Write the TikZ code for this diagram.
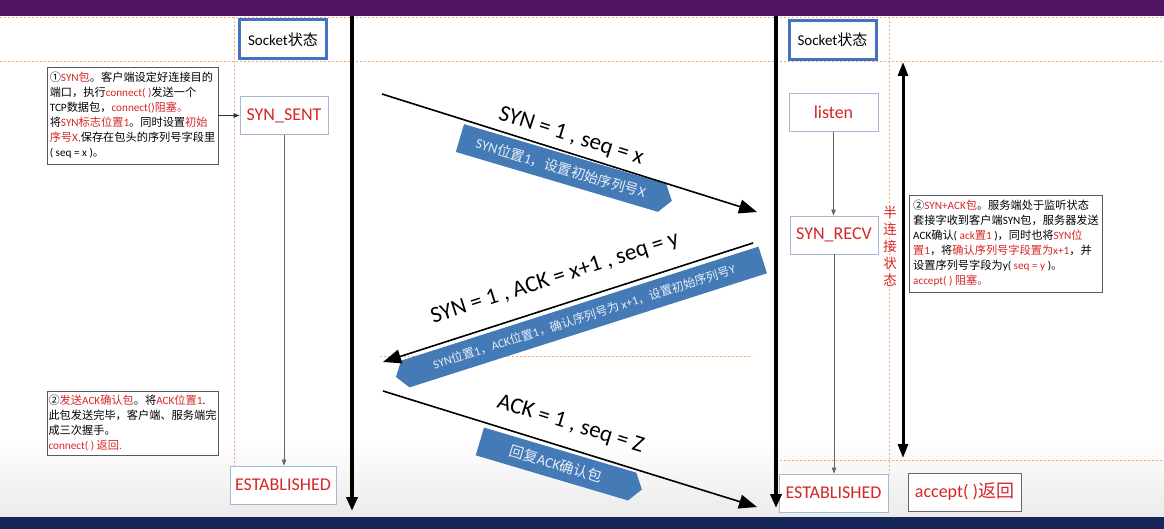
\documentclass[tikz,border=0pt]{standalone}
\usepackage{fontspec}
\setmainfont{Carlito}
\newfontfamily\cjk{Noto Sans CJK SC}
\usetikzlibrary{arrows.meta,shapes.symbols}
\newcommand\zh[1]{{\cjk #1}}
\definecolor{txtred}{RGB}{214,38,38}
\definecolor{sockblue}{RGB}{68,114,196}
\definecolor{stateedge}{RGB}{165,185,215}
\definecolor{dashor}{RGB}{240,170,120}
\definecolor{bannerblue}{RGB}{68,122,182}
\definecolor{bannertext}{RGB}{232,238,248}
\definecolor{topband}{RGB}{80,22,100}
\definecolor{botband}{RGB}{22,38,88}
\newcommand\rd[1]{\textcolor{txtred}{#1}}
\begin{document}
\begin{tikzpicture}[x=1pt,y=-1pt,
  dashln/.style={draw=dashor, line width=0.9pt, dash pattern=on 2pt off 2pt},
  sockbox/.style={draw=sockblue, line width=3pt, fill=white, minimum width=87pt, minimum height=39pt, font=\fontsize{15}{18}\selectfont, inner sep=0pt},
  statebox/.style={draw=stateedge, line width=0.9pt, fill=white, text=txtred, font=\fontsize{18}{21}\selectfont, inner sep=0pt, minimum height=38pt},
  notebox/.style={draw=black!65, line width=0.9pt, fill=white, align=left, font=\fontsize{11.2}{15}\selectfont, inner sep=0pt},
  thinarr/.style={draw=black!60, line width=0.7pt, -{Triangle[length=6pt,width=4.5pt]}},
  msgarr/.style={draw=black, line width=1.6pt, -{Triangle[length=18pt,width=14pt]}},
  timeline/.style={draw=black, line width=4pt, -{Triangle[length=14pt,width=11pt]}},
  banner/.style={shape=signal, fill=bannerblue, text=bannertext, inner sep=0pt, signal pointer angle=110, font=\fontsize{14}{16}\selectfont},
  msglab/.style={font=\fontsize{23}{26}\selectfont, inner sep=0pt}
]
\useasboundingbox (0,0) rectangle (1164,529);
% background
\fill[white] (0,0) rectangle (1164,529);
\shade[top color=white, bottom color=black!8] (0,440) rectangle (1164,517);
\fill[topband] (0,0) rectangle (1164,16);
\fill[botband] (0,517) rectangle (1164,529);

% guide lines
\draw[dashln] (0,17) -- (1164,17);
\draw[dashln] (0,61) -- (1164,61);
\draw[dashln] (234,17) -- (234,466);
\draw[dashln] (889,17) -- (889,474);
\draw[dashln] (776,460) -- (1164,460);
\draw[dashln] (380,356) -- (752,356);

% socket headers
\node[sockbox] (sockL) at (283,39.5) {Socket\zh{状态}};
\node[sockbox] (sockR) at (832.5,40) {Socket\zh{状态}};

% state boxes
\node[statebox, minimum width=88pt] (sent) at (284,115.5) {SYN\_SENT};
\node[statebox, minimum width=106pt] (estL) at (283,485) {ESTABLISHED};
\node[statebox, minimum width=89pt] (listen) at (833.5,112.5) {listen};
\node[statebox, minimum width=88pt] (recv) at (834,235) {SYN\_RECV};
\node[statebox, minimum width=109pt] (estR) at (833.5,493) {ESTABLISHED};
\node[statebox, draw=black!60, minimum width=113pt] (acc) at (964.5,492) {accept( )\zh{返回}};

\draw[thinarr] (sent.south) -- (sent.south |- estL.north);
\draw[thinarr] (listen.south) -- (listen.south |- recv.north);
\draw[thinarr] (recv.south) -- (recv.south |- estR.north);

% notes
\node[notebox, minimum width=171pt, minimum height=97pt] (note1) at (132.5,115.5) {%
\zh{①}\rd{SYN\zh{包}}\zh{。客户端设定好连接目的}\\
\zh{端口，执行}\rd{connect( )}\zh{发送一个}\\
TCP\zh{数据包，}\rd{connect()\zh{阻塞。}}\\
\zh{将}\rd{SYN\zh{标志位置}1}\zh{。同时设置}\rd{\zh{初始}}\\
\rd{\zh{序号}X,}\zh{保存在包头的序列号字段里}\\
( seq = x )\zh{。}};
\draw[thinarr, draw=black!80] (note1.east) -- (sent.west);

\node[notebox, minimum width=171pt, minimum height=64pt] (note2) at (132.5,423) {%
\zh{②}\rd{\zh{发送}ACK\zh{确认包}}\zh{。将}\rd{ACK\zh{位置}1}.\\
\zh{此包发送完毕，客户端、服务端完}\\
\zh{成三次握手。}\\
\rd{connect( ) \zh{返回}.}};

\node[notebox, minimum width=193pt, minimum height=97pt] (note3) at (1006,243.5) {%
\zh{②}\rd{SYN+ACK\zh{包}}\zh{。服务端处于监听状态}\\
\zh{套接字收到客户端}SYN\zh{包，服务器发送}\\
ACK\zh{确认}( \rd{ack\zh{置}1} )\zh{，同时也将}\rd{SYN\zh{位}}\\
\rd{\zh{置}1}\zh{，将}\rd{\zh{确认序列号字段置为}x+1}\zh{，并}\\
\zh{设置序列号字段为}y( \rd{seq = y} )\zh{。}\\
\rd{accept( ) \zh{阻塞。}}};

% half-connection label
\node[text=txtred, font=\cjk\fontsize{13.5}{17}\selectfont, align=center, inner sep=0pt] (half) at (890,246) {半\\连\\接\\状\\态};

% timelines
\coordinate (tlLtop) at (352,16);
\coordinate (tlLbot) at (352,511);
\coordinate (tlRtop) at (776,16);
\coordinate (tlRbot) at (776,508);
\draw[timeline] (tlLtop) -- (tlLbot);
\draw[timeline] (tlRtop) -- (tlRbot);
\coordinate (hcTop) at (903,62);
\coordinate (hcBot) at (903,458);
\draw[draw=black, line width=3pt, {Triangle[length=14pt,width=10pt]}-{Triangle[length=14pt,width=10pt]}] (hcTop) -- (hcBot);

% banners
\node[banner, signal to=east, rotate=-16.5, minimum width=221pt, minimum height=29pt] (b1) at (561,168) {SYN\zh{位置}1\zh{，设置初始序列号}X};
\node[banner, signal to=west, rotate=17.7, minimum width=385pt, minimum height=28pt, font=\fontsize{12}{14}\selectfont] (b2) at (584,317) {SYN\zh{位置}1\zh{，}ACK\zh{位置}1\zh{，确认序列号为} x+1\zh{，设置初始序列号}Y};
\node[banner, signal to=east, rotate=-16.5, minimum width=169pt, minimum height=29pt, font=\fontsize{14.5}{16}\selectfont] (b3) at (556,464) {\zh{回复}ACK\zh{确认包}};

% messages
\coordinate (m1s) at (382,94);
\coordinate (m1e) at (757,212);
\coordinate (m2s) at (753,243);
\coordinate (m2e) at (383,362);
\coordinate (m3s) at (383,391);
\coordinate (m3e) at (757,507);
\draw[msgarr] (m1s) -- (m1e);
\draw[msgarr] (m2s) -- (m2e);
\draw[msgarr] (m3s) -- (m3e);
\node[msglab, rotate=-17.5] (l1) at (571,136.6) {SYN = 1 , seq = x};
\node[msglab, rotate=17.8] (l2) at (555,278.6) {SYN = 1 , ACK = x+1 , seq = y};
\node[msglab, rotate=-17.2] (l3) at (570.4,424.6) {ACK = 1 , seq = Z};
\end{tikzpicture}
\end{document}
